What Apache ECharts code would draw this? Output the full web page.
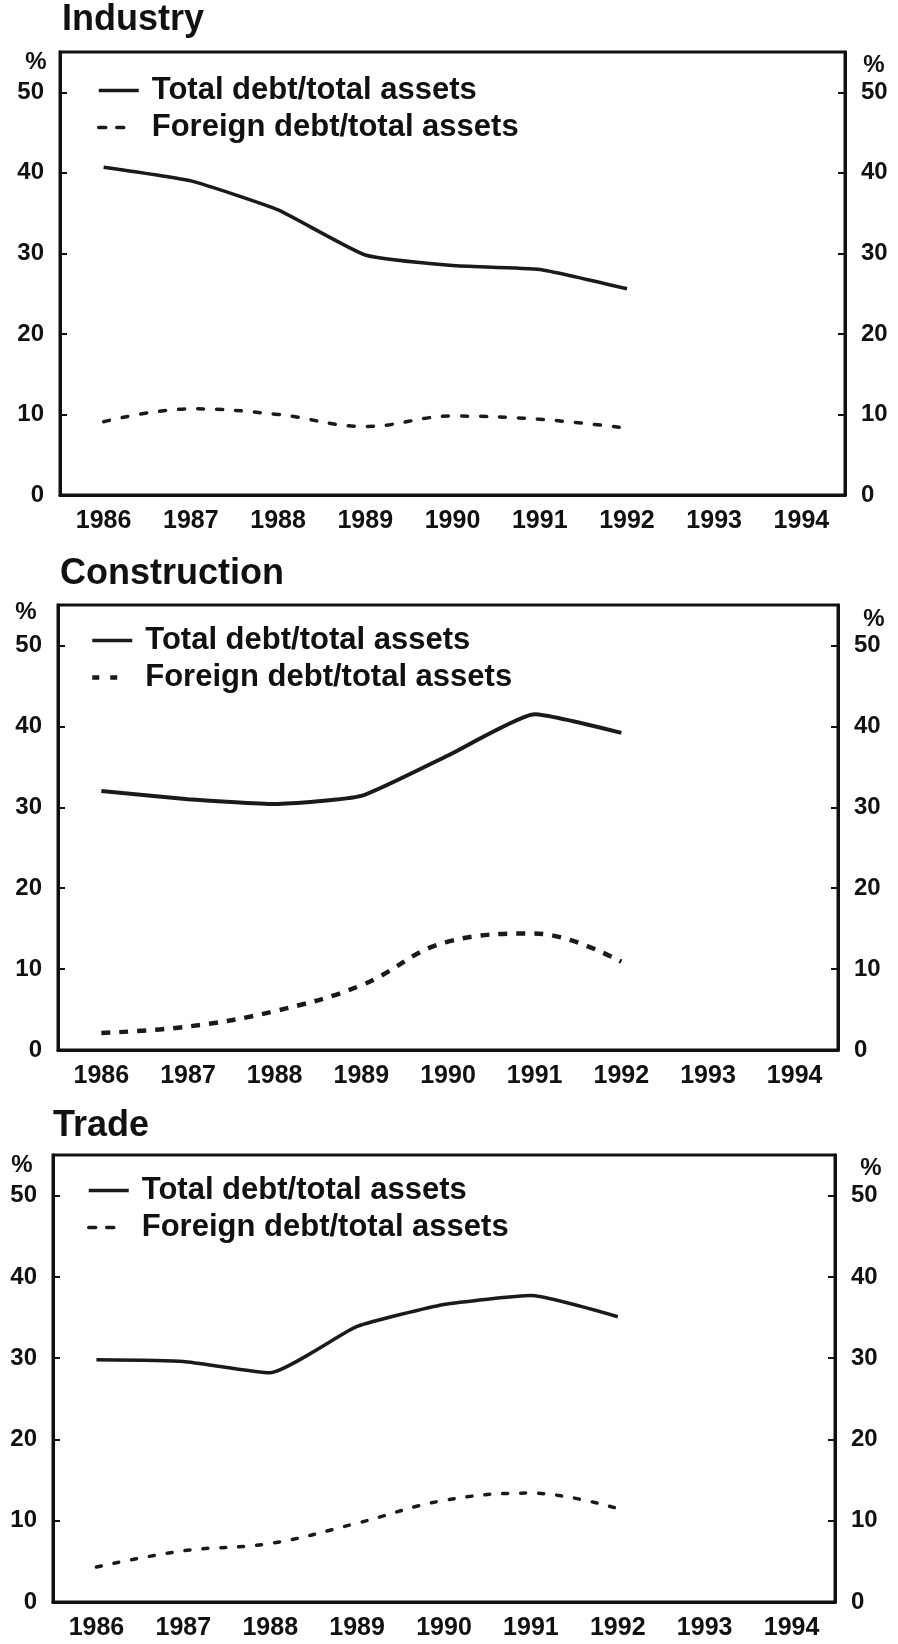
<!DOCTYPE html>
<html>
<head>
<meta charset="utf-8">
<script src="https://cdn.jsdelivr.net/npm/echarts@6/dist/echarts.min.js"></script>
<style>
  html, body { margin: 0; padding: 0; background: #fff; }
  #chart { width: 898px; height: 1644px; }
</style>
</head>
<body>
<div id="chart"></div>
<script>
const years = ['1986', '1987', '1988', '1989', '1990', '1991', '1992', '1993', '1994']
const panelTitles = ['Industry', 'Construction', 'Trade']
const totalName = 'Total debt/total assets'
const foreignName = 'Foreign debt/total assets'

const industryTotal = [40.7, 39.0, 35.4, 29.8, 28.5, 28.0, 25.6]
const industryForeign = [9.1, 10.7, 10.0, 8.5, 9.8, 9.4, 8.3]
const constructionTotal = [32.0, 31.0, 30.4, 31.4, 36.4, 41.5, 39.2]
const constructionForeign = [2.1, 2.9, 4.8, 8.0, 13.4, 14.4, 10.9]
const tradeTotal = [29.8, 29.6, 28.2, 33.9, 36.6, 37.7, 35.1]
const tradeForeign = [4.3, 6.3, 7.2, 9.7, 12.5, 13.4, 11.5]

const panelData = [
  [industryTotal, industryForeign],
  [constructionTotal, constructionForeign],
  [tradeTotal, tradeForeign]
]

// layout of each panel box, in page pixels
const boxes = [
  { left: 60, top: 52, width: 785, height: 443, titleX: 62, titleY: 2, legX: 92, legY: 70, pctL: [36, 62], pctR: [874, 65] },
  { left: 58, top: 605, width: 780, height: 445, titleX: 60, titleY: 556, legX: 85, legY: 620, pctL: [26, 612], pctR: [874, 619] },
  { left: 53, top: 1155, width: 782, height: 447, titleX: 53, titleY: 1108, legX: 82, legY: 1170, pctL: [22, 1165], pctR: [871, 1168] }
]

const dashes = [[6, 13], [9, 9], [5, 13]]
const dashWidth = [3.5, 4.5, 3.5]

const ink = '#111'
const font = 'Liberation Sans'

const chart = echarts.init(document.getElementById('chart'))

const grid = []
const xAxis = []
const yAxis = []
const series = []
const legend = []
const title = []
const graphic = []

boxes.forEach((b, i) => {
  // unique series names per panel (trailing spaces keep the text identical)
  const pad = ' '.repeat(i)
  grid.push({
    left: b.left, top: b.top, width: b.width, height: b.height,
    show: true, borderColor: ink, borderWidth: 3
  })
  xAxis.push({
    type: 'category',
    gridIndex: i,
    data: years,
    boundaryGap: true,
    axisLine: { lineStyle: { color: ink, width: 3 } },
    axisTick: { inside: true, length: 10, lineStyle: { color: ink, width: 2 } },
    axisLabel: { color: ink, fontFamily: font, fontWeight: 'bold', fontSize: 25, margin: 14 },
    splitLine: { show: false }
  })
  const yCommon = {
    type: 'value',
    gridIndex: i,
    min: 0,
    max: 55,
    interval: 10,
    axisLine: { show: true, lineStyle: { color: ink, width: 3 } },
    axisTick: { show: true, inside: true, length: 7, lineStyle: { color: ink, width: 2 } },
    splitLine: { show: false }
  }
  yAxis.push({
    ...yCommon,
    position: 'left',
    axisLabel: { color: ink, fontFamily: font, fontWeight: 'bold', fontSize: 24, margin: 16, showMaxLabel: false }
  })
  yAxis.push({
    ...yCommon,
    position: 'right',
    axisLabel: { color: ink, fontFamily: font, fontWeight: 'bold', fontSize: 24, margin: 16, showMaxLabel: false }
  })

  const [tot, fgn] = panelData[i]
  series.push({
    name: totalName + pad,
    type: 'line',
    xAxisIndex: i,
    yAxisIndex: i * 2,
    data: tot,
    symbol: 'none',
    smooth: 0.15,
    lineStyle: { color: '#1a1a1a', width: i === 1 ? 4 : 3.5 }
  })
  series.push({
    name: foreignName + pad,
    type: 'line',
    xAxisIndex: i,
    yAxisIndex: i * 2,
    data: fgn,
    symbol: 'none',
    smooth: 0.4,
    lineStyle: { color: '#1a1a1a', width: dashWidth[i], type: dashes[i], cap: i === 1 ? 'butt' : 'round' }
  })

  legend.push({
    orient: 'vertical',
    left: b.legX,
    top: b.legY,
    itemWidth: 40,
    itemHeight: 14,
    itemGap: 6,
    selectedMode: false,
    itemStyle: { opacity: 0 },
    data: [
      { name: totalName + pad, lineStyle: { width: 3.5, color: '#1a1a1a' } },
      { name: foreignName + pad, lineStyle: { width: dashWidth[i], color: '#1a1a1a', type: [7, 11, 7, 100] } }
    ],
    formatter: (n) => n.trim(),
    textStyle: { color: ink, fontFamily: font, fontWeight: 'bold', fontSize: 31, padding: [0, 0, 0, 8] }
  })

  title.push({
    text: panelTitles[i],
    left: b.titleX,
    top: b.titleY,
    padding: 0,
    textStyle: { color: ink, fontFamily: font, fontWeight: 'bold', fontSize: 36 }
  })

  graphic.push({
    type: 'text', x: b.pctL[0], y: b.pctL[1],
    style: { text: '%', fill: ink, font: 'bold 24px Liberation Sans', align: 'center', verticalAlign: 'middle' }
  })
  graphic.push({
    type: 'text', x: b.pctR[0], y: b.pctR[1],
    style: { text: '%', fill: ink, font: 'bold 24px Liberation Sans', align: 'center', verticalAlign: 'middle' }
  })
})

chart.setOption({
  backgroundColor: '#fff',
  animation: false,
  title,
  legend,
  grid,
  xAxis,
  yAxis,
  series,
  graphic
})
</script>
</body>
</html>
